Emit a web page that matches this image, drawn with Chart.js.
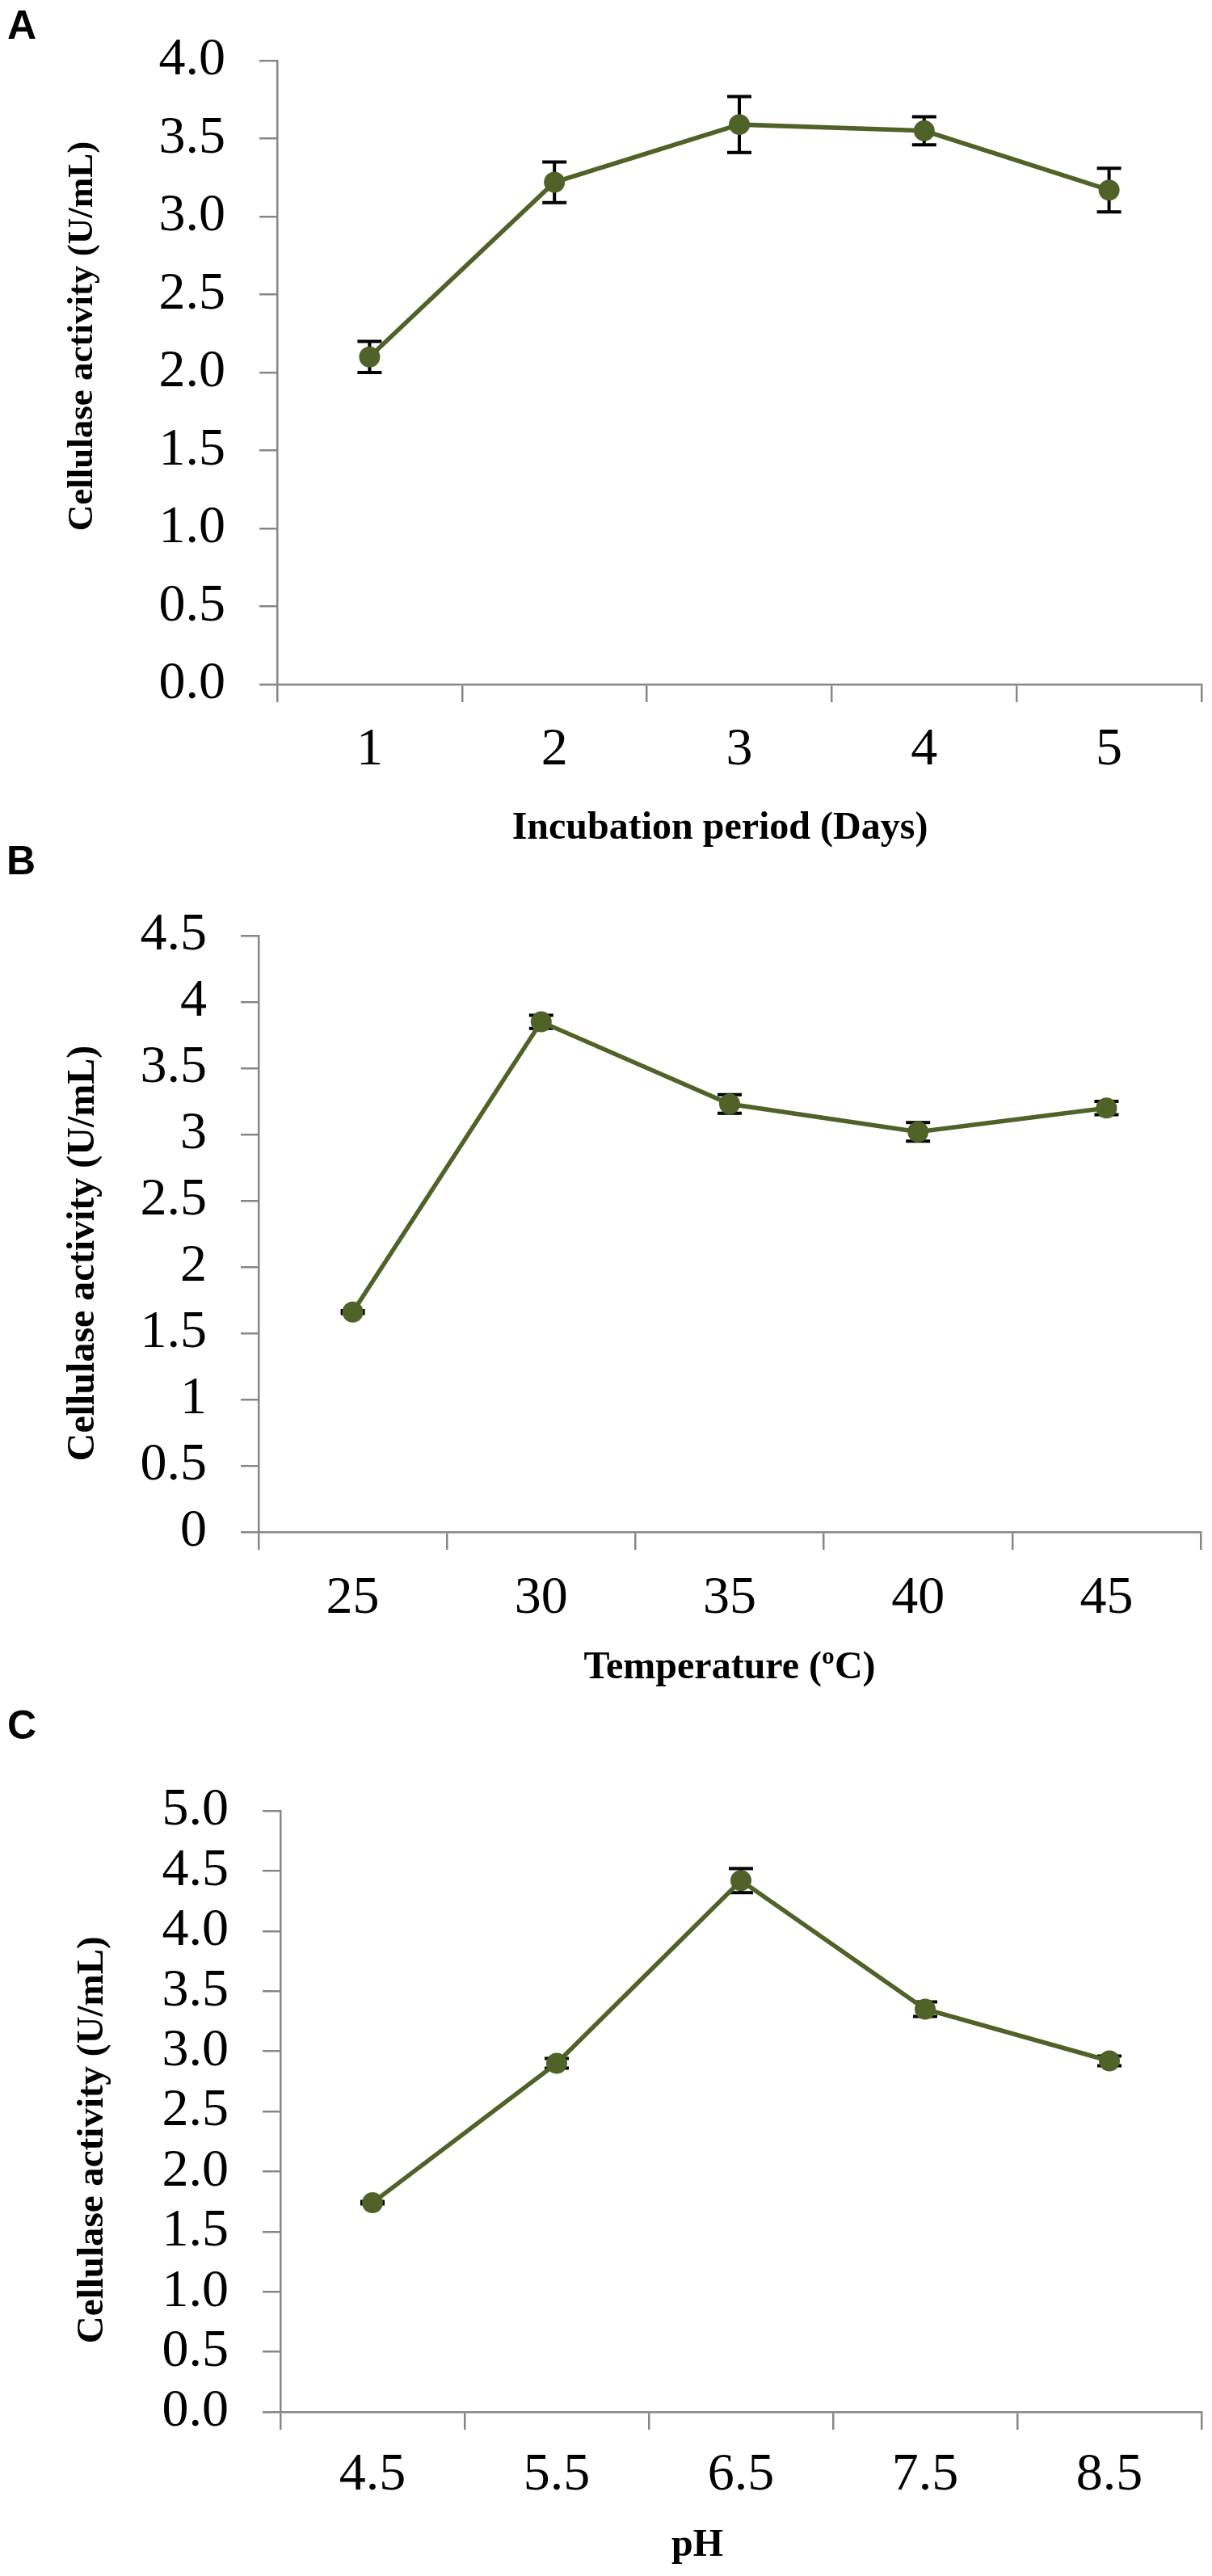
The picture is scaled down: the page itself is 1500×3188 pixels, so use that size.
<!DOCTYPE html>
<html lang="en">
<head>
    <meta charset="UTF-8">
    <title>Cellulase activity</title>
    <script src="https://cdn.jsdelivr.net/npm/chart.js"></script>
    <style>
        body {
            margin: 0;
            background: #fff;
        }
        .page {
            position: relative;
            width: 1500px;
            height: 3188px;
        }
        .panel {
            position: absolute;
            left: 0;
        }
        .letter {
            position: absolute;
            font-family: 'Liberation Sans', Arial, sans-serif;
            font-weight: bold;
            font-size: 50px;
            line-height: 1;
            color: #000;
        }
    </style>
</head>
<body>
<div class="page">
    <div class="letter" style="left:9px; top:6px;">A</div>
    <div class="letter" style="left:8px; top:1040px;">B</div>
    <div class="letter" style="left:9px; top:2110px;">C</div>

    <div class="panel" style="top:0;"><canvas id="chartA" width="1500" height="1080"></canvas></div>
    <div class="panel" style="top:1080px;"><canvas id="chartB" width="1500" height="1030"></canvas></div>
    <div class="panel" style="top:2110px;"><canvas id="chartC" width="1500" height="1078"></canvas></div>
</div>

<script>
    // Values
    const dayLabels = ['1', '2', '3', '4', '5'];
    const dayActivity = [2.10, 3.22, 3.59, 3.55, 3.17];
    const dayError = [0.10, 0.13, 0.18, 0.09, 0.14];

    const tempLabels = ['25', '30', '35', '40', '45'];
    const tempActivity = [1.66, 3.85, 3.23, 3.02, 3.20];
    const tempError = [0.01, 0.05, 0.07, 0.07, 0.05];

    const phLabels = ['4.5', '5.5', '6.5', '7.5', '8.5'];
    const phActivity = [1.74, 2.90, 4.42, 3.35, 2.92];
    const phError = [0.01, 0.04, 0.10, 0.06, 0.04];

    const yTicksA = { min: 0, max: 4, step: 0.5 };
    const yTicksB = { min: 0, max: 4.5, step: 0.5 };
    const yTicksC = { min: 0, max: 5, step: 0.5 };

    const green = '#4f6228';
    const axisGrey = '#868686';
    const NB = '\u00a0';

    Chart.defaults.font.family = "'Liberation Serif', 'Times New Roman', serif";
    Chart.defaults.color = '#000';

    // error bars, placed with the y scale, drawn under the markers
    const errorBars = {
        id: 'errorBars',
        beforeDatasetsDraw(chart) {
            const ctx = chart.ctx;
            const y = chart.scales.y;
            chart.data.datasets.forEach((ds, i) => {
                const meta = chart.getDatasetMeta(i);
                meta.data.forEach((pt, j) => {
                    const err = ds.errors[j];
                    const top = y.getPixelForValue(ds.data[j] + err);
                    const bot = y.getPixelForValue(ds.data[j] - err);
                    ctx.save();
                    ctx.strokeStyle = '#000';
                    ctx.lineWidth = 4;
                    ctx.beginPath();
                    ctx.moveTo(pt.x, top);
                    ctx.lineTo(pt.x, bot);
                    ctx.moveTo(pt.x - 15, top);
                    ctx.lineTo(pt.x + 15, top);
                    ctx.moveTo(pt.x - 15, bot);
                    ctx.lineTo(pt.x + 15, bot);
                    ctx.stroke();
                    ctx.restore();
                });
            });
        }
    };

    function makeChart(id, cfg) {
        return new Chart(document.getElementById(id), {
            type: 'line',
            data: {
                labels: cfg.labels,
                datasets: [{
                    data: cfg.values,
                    errors: cfg.errors,
                    borderColor: green,
                    borderWidth: 5.5,
                    backgroundColor: green,
                    pointBackgroundColor: green,
                    pointBorderWidth: 0,
                    pointRadius: 13,
                    tension: 0
                }]
            },
            options: {
                responsive: false,
                animation: false,
                devicePixelRatio: 1,
                layout: {
                    padding: { top: cfg.padTop, right: cfg.padRight, left: 0, bottom: 0 }
                },
                plugins: {
                    legend: { display: false },
                    tooltip: { enabled: false }
                },
                scales: {
                    x: {
                        offset: true,
                        grid: {
                            offset: true,
                            drawOnChartArea: false,
                            tickLength: 22,
                            color: axisGrey,
                            lineWidth: 2.5
                        },
                        border: { color: axisGrey, width: 2.5 },
                        ticks: {
                            padding: cfg.xTickPad,
                            font: { size: 66, lineHeight: 1 },
                            maxRotation: 0,
                            autoSkip: false
                        },
                        title: {
                            display: true,
                            text: cfg.xTitle,
                            font: { size: 48, weight: 'bold', lineHeight: 1 },
                            padding: { top: 0, bottom: cfg.xTitlePad }
                        },
                        afterFit: s => { s.height = cfg.xHeight; }
                    },
                    y: {
                        min: cfg.yTicks.min,
                        max: cfg.yTicks.max,
                        grid: {
                            drawOnChartArea: false,
                            tickLength: 22,
                            color: axisGrey,
                            lineWidth: 2.5
                        },
                        border: { color: axisGrey, width: 2.5 },
                        ticks: {
                            stepSize: cfg.yTicks.step,
                            padding: 42,
                            font: { size: 66, lineHeight: 1 },
                            callback: cfg.yFormat
                        },
                        title: {
                            display: true,
                            text: cfg.yTitle,
                            font: { size: cfg.yTitleSize, weight: 'bold', lineHeight: 1 },
                            padding: { top: cfg.yTitlePad, bottom: 0 }
                        },
                        afterFit: s => { s.width = cfg.yWidth; }
                    }
                }
            },
            plugins: [errorBars]
        });
    }

    makeChart('chartA', {
        labels: dayLabels, values: dayActivity, errors: dayError, yTicks: yTicksA,
        yFormat: v => v.toFixed(1),
        xTitle: 'Incubation period (Days)' + NB.repeat(4),
        yTitle: NB.repeat(8) + 'Cellulase activity (U/mL)',
        yTitleSize: 45,
        padTop: 62, padRight: 9, yWidth: 343, xHeight: 233,
        xTickPad: 27, xTitlePad: 30, yTitlePad: 80
    });

    makeChart('chartB', {
        labels: tempLabels, values: tempActivity, errors: tempError, yTicks: yTicksB,
        yFormat: v => String(v),
        xTitle: 'Temperature (\u00baC)',
        yTitle: 'Cellulase activity (U/mL)' + NB.repeat(4),
        yTitleSize: 48,
        padTop: 78, padRight: 14, yWidth: 320, xHeight: 214,
        xTickPad: 28, xTitlePad: 21, yTitlePad: 80
    });

    makeChart('chartC', {
        labels: phLabels, values: phActivity, errors: phError, yTicks: yTicksC,
        yFormat: v => v.toFixed(1),
        xTitle: 'pH' + NB.repeat(9),
        yTitle: 'Cellulase activity (U/mL)' + NB.repeat(6),
        yTitleSize: 47,
        padTop: 131, padRight: 8, yWidth: 347, xHeight: 203,
        xTickPad: 24, xTitlePad: 13, yTitlePad: 91
    });
</script>
</body>
</html>
